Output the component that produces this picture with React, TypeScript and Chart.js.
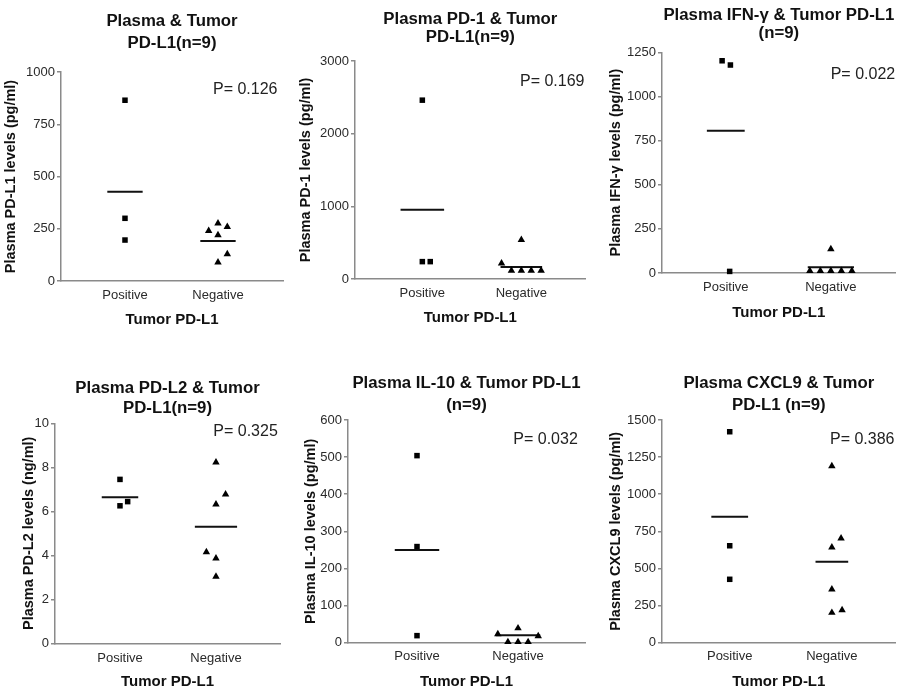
import React, { useEffect, useRef } from "react";
import { Chart, registerables } from "chart.js";

Chart.register(...registerables);
Chart.defaults.font.family = "'Liberation Sans', Arial, sans-serif";
Chart.defaults.color = "#333";

// ---------- data ----------
const categories = ["Positive", "Negative"];
const xAxisTitle = "Tumor PD-L1";

const titles = [
  ["Plasma & Tumor", "PD-L1(n=9)"],
  ["Plasma PD-1 & Tumor", "PD-L1(n=9)"],
  ["Plasma IFN-γ & Tumor PD-L1", "(n=9)"],
  ["Plasma PD-L2 & Tumor", "PD-L1(n=9)"],
  ["Plasma IL-10 & Tumor PD-L1", "(n=9)"],
  ["Plasma CXCL9 & Tumor", "PD-L1 (n=9)"],
];
const yTitles = [
  "Plasma PD-L1 levels (pg/ml)",
  "Plasma PD-1 levels (pg/ml)",
  "Plasma IFN-γ levels (pg/ml)",
  "Plasma PD-L2 levels (ng/ml)",
  "Plasma IL-10 levels (pg/ml)",
  "Plasma CXCL9 levels (pg/ml)",
];
const yMax = [1000, 3000, 1250, 10, 600, 1500];
const yStep = [250, 1000, 250, 2, 100, 250];
const pValues = ["P= 0.126", "P= 0.169", "P= 0.022", "P= 0.325", "P= 0.032", "P= 0.386"];

const pdl1Pos = [865, 300, 196];
const pdl1Neg = [276, 259, 240, 220, 129, 89];
const pd1Pos = [2461, 239, 239];
const pd1Neg = [538, 215, 115, 115, 115, 115];
const ifngPos = [1202, 1178, 9];
const ifngNeg = [136, 12, 12, 12, 12, 12];
const pdl2Pos = [7.45, 6.25, 6.44];
const pdl2Neg = [8.23, 6.77, 6.32, 4.15, 3.86, 3.03];
const il10Pos = [504, 259, 19];
const il10Neg = [39, 23, 18, 2, 2, 2];
const cxcl9Pos = [1421, 653, 427];
const cxcl9Neg = [1190, 703, 643, 360, 202, 220];

const posMeans = [427, 952, 805, 6.64, 250, 849];
const negMeans = [191, 165, 32, 5.3, 20, 546];

const posSeries = [pdl1Pos, pd1Pos, ifngPos, pdl2Pos, il10Pos, cxcl9Pos];
const negSeries = [pdl1Neg, pd1Neg, ifngNeg, pdl2Neg, il10Neg, cxcl9Neg];

// ---------- layout (per panel, canvas-relative) ----------
type Lay = {
  cx: number; cy: number; cw: number; ch: number;
  yW: number; pr: number; pt: number; titleLH: number; titlePadB: number;
  yTitlePad: number; xH: number; xTitlePadB: number; xTickPad: number;
  xMin: number; xMax: number; pX: number; pY: number;
  posJit: number[]; negJit: number[]; half: number[];
};
const layouts: Lay[] = [
  { cx: 0, cy: 0, cw: 295, ch: 340, yW: 61, pr: 12, pt: 11, titleLH: 21.5, titlePadB: 18,
    yTitlePad: 2.3, xH: 59, xTitlePadB: 11, xTickPad: 6.2, xMin: 0.312, xMax: 2.699, pX: 213, pY: 90,
    posJit: [0, 0, 0], negJit: [0, 0.1, -0.1, 0, 0.1, 0], half: [0.19, 0.19] },
  { cx: 295, cy: 0, cw: 295, ch: 340, yW: 60, pr: 2, pt: 10.3, titleLH: 18, titlePadB: 14.7,
    yTitlePad: 2.3, xH: 61, xTitlePadB: 13, xTickPad: 6.5, xMin: 0.32, xMax: 2.65, pX: 225, pY: 81.7,
    posJit: [0, 0, 0.08], negJit: [0, -0.2, -0.1, 0, 0.1, 0.2], half: [0.22, 0.21] },
  { cx: 590, cy: 0, cw: 310, ch: 340, yW: 72, pr: 0, pt: 5.85, titleLH: 18.3, titlePadB: 9.85,
    yTitlePad: 17.3, xH: 67, xTitlePadB: 18.3, xTickPad: 6.5, xMin: 0.393, xMax: 2.617, pX: 240.7, pY: 75,
    posJit: [-0.035, 0.044, 0.037], negJit: [0, -0.2, -0.1, 0, 0.1, 0.2], half: [0.18, 0.22] },
  { cx: 0, cy: 340, cw: 295, ch: 356, yW: 55, pr: 15, pt: 38.3, titleLH: 20, titlePadB: 5,
    yTitlePad: 20.3, xH: 52.7, xTitlePadB: 5.3, xTickPad: 7.2, xMin: 0.323, xMax: 2.667, pX: 213.3, pY: 91.7,
    posJit: [0, 0, 0.08], negJit: [0, 0.1, 0, -0.1, 0, 0], half: [0.19, 0.22] },
  { cx: 295, cy: 340, cw: 295, ch: 356, yW: 53, pr: 5, pt: 32.45, titleLH: 21.7, titlePadB: 4.15,
    yTitlePad: 7.3, xH: 53.3, xTitlePadB: 5.3, xTickPad: 5.5, xMin: 0.317, xMax: 2.663, pX: 218.3, pY: 100,
    posJit: [0, 0, 0], negJit: [0, -0.2, 0.2, -0.1, 0, 0.1], half: [0.22, 0.22] },
  { cx: 590, cy: 340, cw: 310, ch: 356, yW: 72, pr: 0, pt: 32.45, titleLH: 21.7, titlePadB: 4.15,
    yTitlePad: 17.3, xH: 53.3, xTitlePadB: 5.3, xTickPad: 6.2, xMin: 0.337, xMax: 2.625, pX: 240, pY: 100,
    posJit: [0, 0, 0], negJit: [0, 0.09, 0, 0, 0, 0.1], half: [0.18, 0.16] },
];

const AXIS = "#8a8a8a";
const FONT = "'Liberation Sans', Arial, sans-serif";

function Panel({ idx }: { idx: number }) {
  const ref = useRef<HTMLCanvasElement>(null);
  const L = layouts[idx];
  useEffect(() => {
    const pos = posSeries[idx];
    const neg = negSeries[idx];
    const chart = new Chart(ref.current as HTMLCanvasElement, {
      type: "scatter",
      data: {
        datasets: [
          {
            type: "scatter",
            data: pos.map((v, i) => ({ x: 1 + L.posJit[i], y: v })),
            pointStyle: "rect",
            pointRadius: 3.9,
            backgroundColor: "#000",
            borderWidth: 0,
            clip: false,
          } as any,
          {
            type: "scatter",
            data: neg.map((v, i) => ({ x: 2 + L.negJit[i], y: v })),
            pointStyle: "triangle",
            pointRadius: 4.3,
            backgroundColor: "#000",
            borderWidth: 0,
            clip: false,
          } as any,
          {
            type: "line",
            data: [
              { x: 1 - L.half[0], y: posMeans[idx] },
              { x: 1 + L.half[0], y: posMeans[idx] },
            ],
            borderColor: "#111",
            borderWidth: 2,
            pointRadius: 0,
            fill: false,
          } as any,
          {
            type: "line",
            data: [
              { x: 2 - L.half[1], y: negMeans[idx] },
              { x: 2 + L.half[1], y: negMeans[idx] },
            ],
            borderColor: "#111",
            borderWidth: 2,
            pointRadius: 0,
            fill: false,
          } as any,
        ],
      },
      options: {
        responsive: false,
        animation: false,
        devicePixelRatio: 1,
        layout: { padding: { left: 0, top: L.pt, right: L.pr, bottom: 0 } },
        plugins: {
          legend: { display: false },
          tooltip: { enabled: false },
          title: {
            display: true,
            text: titles[idx],
            fullSize: false,
            color: "#111",
            font: { size: 16.8, weight: "bold", lineHeight: L.titleLH / 16.8 },
            padding: { top: 0, bottom: L.titlePadB },
          },
        },
        scales: {
          x: {
            type: "linear",
            min: L.xMin,
            max: L.xMax,
            afterFit: (s: any) => {
              s.height = L.xH;
            },
            afterBuildTicks: (s: any) => {
              s.ticks = [{ value: 1 }, { value: 2 }];
            },
            grid: { display: false, drawTicks: false },
            border: { display: true, color: AXIS, width: 1.5 },
            ticks: {
              callback: (v: any) => categories[Math.round(Number(v)) - 1] ?? "",
              padding: L.xTickPad,
              font: { size: 13 },
              color: "#2a2a2a",
              autoSkip: false,
              maxRotation: 0,
            },
            title: {
              display: true,
              text: xAxisTitle,
              color: "#111",
              font: { size: 15, weight: "bold", lineHeight: 1.2 },
              padding: { top: 0, bottom: L.xTitlePadB },
            },
          },
          y: {
            min: 0,
            max: yMax[idx],
            afterFit: (s: any) => {
              s.width = L.yW;
            },
            ticks: {
              stepSize: yStep[idx],
              padding: 2,
              font: { size: 13 },
              color: "#2a2a2a",
              autoSkip: false,
              callback: (v: any) => String(v),
            },
            grid: {
              drawOnChartArea: false,
              drawTicks: true,
              tickLength: 4,
              color: AXIS,
              lineWidth: 1.5,
            },
            border: { display: true, color: AXIS, width: 1.5 },
            title: {
              display: true,
              text: yTitles[idx],
              color: "#111",
              font: { size: 14.5, weight: "bold", lineHeight: 1.2 },
              padding: { top: L.yTitlePad, bottom: 0 },
            },
          },
        },
      } as any,
      plugins: [
        {
          id: "pvalue",
          afterDraw(c: any) {
            const ctx = c.ctx;
            ctx.save();
            ctx.font = `16px ${FONT}`;
            ctx.fillStyle = "#222";
            ctx.textAlign = "left";
            ctx.textBaseline = "middle";
            ctx.fillText(pValues[idx], L.pX, L.pY);
            ctx.restore();
          },
        },
      ],
    });
    return () => chart.destroy();
  }, [idx]);
  return (
    <canvas
      ref={ref}
      width={L.cw}
      height={L.ch}
      style={{ position: "absolute", left: L.cx, top: L.cy, width: L.cw, height: L.ch }}
    />
  );
}

export default function App() {
  return (
    <div
      style={{
        position: "absolute",
        left: 0,
        top: 0,
        width: 900,
        height: 696,
        background: "#fff",
        overflow: "hidden",
      }}
    >
      {layouts.map((_, i) => (
        <Panel key={i} idx={i} />
      ))}
    </div>
  );
}
